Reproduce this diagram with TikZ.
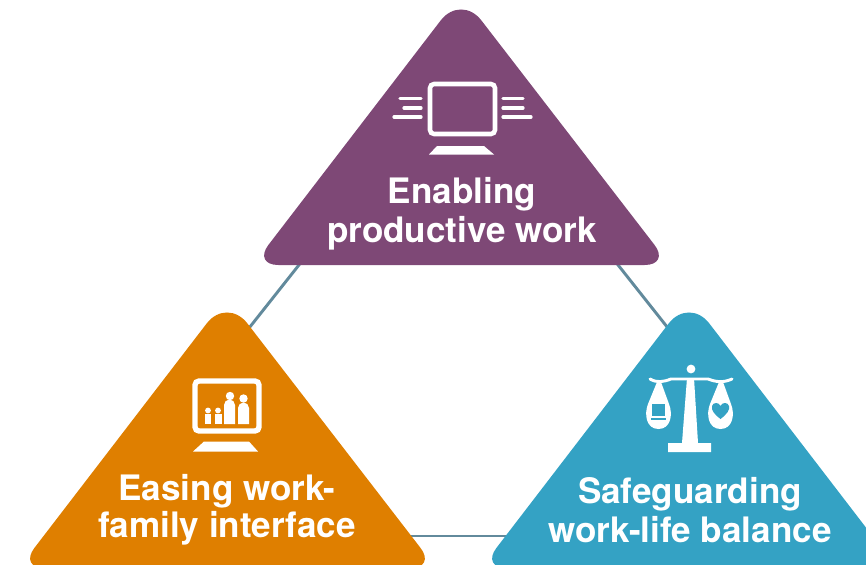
\documentclass[tikz,border=0pt]{standalone}
\usepackage{fontspec}
\setmainfont{TeX Gyre Heros}
\definecolor{plum}{HTML}{7E4876}
\definecolor{amber}{HTML}{DF7F00}
\definecolor{teal2}{HTML}{34A2C4}
\definecolor{linkc}{HTML}{628A9C}
\tikzset{
 link/.style={draw=linkc,line width=2.2pt},
 lbl/.style={text=white,font=\bfseries\fontsize{26.3}{29.4}\selectfont,align=center,inner sep=0pt},
 ic/.style={fill=white,draw=none},
 iln/.style={draw=white,line cap=round,line width=2.4pt}
}
\begin{document}
\begin{tikzpicture}[x=0.75pt,y=-0.75pt]
\useasboundingbox (0,0) rectangle (866,564);
\clip (0,0) rectangle (866,564);
% connector ends
\coordinate (a1) at (310,251); \coordinate (b1) at (238,342);
\coordinate (a2) at (607,251); \coordinate (c2) at (679,342);
\coordinate (b3) at (400,536); \coordinate (c3) at (520,536);
\draw[link] (a1) -- (b1);
\draw[link] (a2) -- (c2);
\draw[link] (b3) -- (c3);
% triangles
\fill[plum] [rounded corners=19pt] (253,265) -- (670,265) [rounded corners=25pt] -- (461,-6) [rounded corners=19pt] -- cycle;
\fill[amber] [rounded corners=19pt] (19,568) -- (436,568) [rounded corners=25pt] -- (227,297) [rounded corners=19pt] -- cycle;
\fill[teal2] [rounded corners=19pt] (481,568) -- (897,568) [rounded corners=25pt] -- (689,297) [rounded corners=19pt] -- cycle;
% monitor icon top
\draw[white,line width=3.4pt,rounded corners=3pt,fill=plum] (430,84) rectangle (495,134);
\fill[ic] (429,154.5) -- (437,146) -- (484,146) -- (494,154.5) -- cycle;
\foreach \a/\b/\c in {400/421/98.5,404/421/108,394/421/117}{\draw[iln] (\a,\c) -- (\b,\c);}
\foreach \a/\b/\c in {503/523/98.5,503/523/108,503/531/117}{\draw[iln] (\a,\c) -- (\b,\c);}
% monitor icon orange
\draw[white,line width=4pt,rounded corners=3pt,fill=amber] (195,381) rectangle (259,431);
\fill[ic] (193,451.5) -- (204,441.5) -- (249,441.5) -- (258,451.5) -- cycle;
\fill[ic] (204.5,424) rectangle (211,414); \fill[ic] (208,410.5) circle[radius=2.9];
\fill[ic] (214.5,424) rectangle (221.5,414); \fill[ic] (218,410.5) circle[radius=2.9];
\fill[ic] (224,424) -- (224,405) arc[start angle=180,end angle=360,radius=5.5] -- (235,424) -- cycle; \fill[ic] (230,396) circle[radius=4.2];
\fill[ic] (238,424) -- (238,408) arc[start angle=180,end angle=360,radius=5.5] -- (249,424) -- cycle; \fill[ic] (243.5,398.5) circle[radius=4.2];
% scales icon
\fill[ic] (691,369) circle[radius=4.4];
\fill[ic] (668,452) -- (668,443) -- (682,443) -- (687,378) -- (694,378) -- (698,443) -- (711,443) -- (711,452) -- cycle;
\draw[white,line width=2.2pt,line cap=round] (650,379) .. controls (657,383) and (663,382) .. (671,379) -- (708,379) .. controls (716,382) and (723,383) .. (732,379);
\fill[ic] (657,382) -- (661,382) -- (669,404) .. controls (673,414) and (671,429) .. (658.5,429) .. controls (646,429) and (644,414) .. (648,404) -- cycle;
\fill[ic] (719,382) -- (723,382) -- (731,404) .. controls (735,414) and (733,429) .. (720.5,429) .. controls (708,429) and (706,414) .. (710,404) -- cycle;
\fill[teal2] (652,404) rectangle (665,416);
\fill[teal2] (651,418) rectangle (666,419.5);
\fill[teal2] (720.5,419) .. controls (714,414) and (711,410) .. (712,406) .. controls (713,402) and (719,402) .. (720.5,406) .. controls (722,402) and (728,402) .. (729,406) .. controls (730,410) and (727,414) .. (720.5,419) -- cycle;
% labels
\node[lbl] (t1) at (462,214) {Enabling\\productive work};
\node[lbl,font=\bfseries\fontsize{26.3}{28}\selectfont] (t2) at (227,510) {Easing work-\\family interface};
\node[lbl] (t3) at (690,510) {Safeguarding\\work-life balance};
\end{tikzpicture}
\end{document}
